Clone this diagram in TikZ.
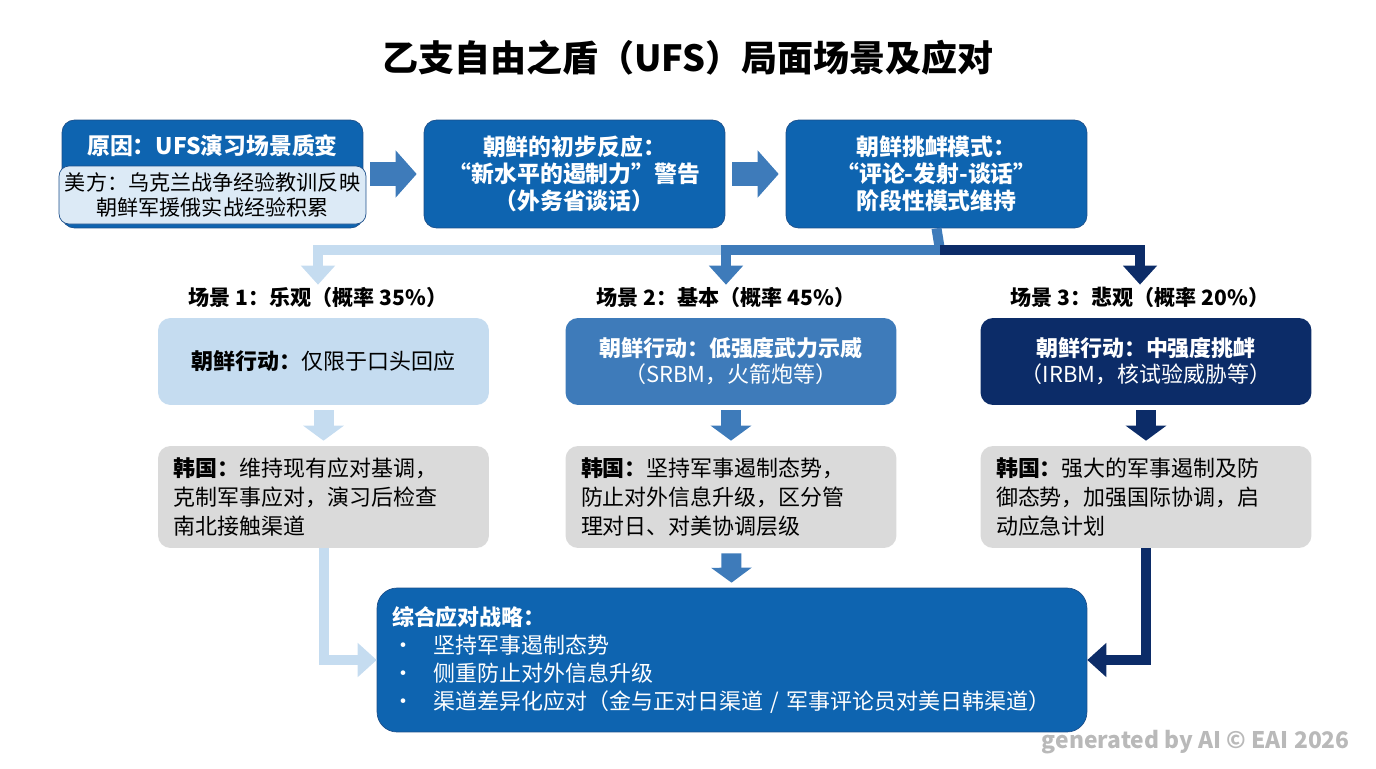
\documentclass[tikz,border=0pt]{standalone}
\usepackage{fontspec}
\setmainfont{Noto Sans CJK SC}
\usetikzlibrary{arrows.meta}
\usetikzlibrary{positioning}
\definecolor{boxblue}{HTML}{0E64B0}
\definecolor{edgeblue}{HTML}{1B4E8A}
\definecolor{lightblue}{HTML}{C5DCF0}
\definecolor{paleblue}{HTML}{DCEAF6}
\definecolor{midblue}{HTML}{3E7BBA}
\definecolor{darkblue}{HTML}{0C2C68}
\definecolor{greybox}{HTML}{DADADA}
\tikzset{
    top box/.style={
        draw=edgeblue,
        fill=boxblue,
        rounded corners=2.5mm,
        minimum width=6.02cm,
        minimum height=2.16cm,
        text=white,
        font=\bfseries\fontsize{13}{15.5}\selectfont,
        align=center,
    },
    act box/.style={
        rounded corners=2.5mm,
        minimum width=6.62cm,
        minimum height=1.74cm,
        align=center,
        font=\fontsize{12.5}{15}\selectfont,
    },
    kor box/.style={
        fill=greybox,
        rounded corners=2.5mm,
        minimum width=6.62cm,
        minimum height=2.04cm,
        text width=6.0cm,
        align=left,
        font=\fontsize{12.5}{16.5}\selectfont,
    },
    scene label/.style={
        font=\bfseries\fontsize{12}{14}\selectfont,
        inner sep=1pt,
    },
    flow line/.style={
        line width=0.2cm,
        -{Triangle[width=0.66cm,length=0.38cm]},
    },
    block arrow/.style={
        line width=0.48cm,
        -{Triangle[width=0.92cm,length=0.42cm]},
        shorten <=0.14cm,
        shorten >=0.14cm,
        color=midblue,
    },
    step arrow/.style={
        line width=0.4cm,
        -{Triangle[width=0.8cm,length=0.3cm]},
        shorten <=0.1cm,
        shorten >=0.1cm,
    },
}
\begin{document}
\begin{tikzpicture}[x=0.02cm,y=-0.02cm]
    \useasboundingbox (0,0) rectangle (1376,768);

    \node[font=\bfseries\fontsize{20.5}{24}\selectfont] (title) at (688,58) {乙支自由之盾（UFS）局面场景及应对};

    % top row
    \node[top box] (cause) at (212.5,174) {};
    \node[font=\bfseries\fontsize{13}{15}\selectfont, text=white] (causetitle) at (212.5,146) {原因：UFS演习场景质变};
    \node[draw=edgeblue, fill=paleblue, rounded corners=2mm, minimum width=5.78cm, minimum height=1.16cm,
          align=center, font=\fontsize{12}{14.5}\selectfont] (causenote) at (212.5,195)
          {美方：乌克兰战争经验教训反映\\朝鲜军援俄实战经验积累};
    \node[top box] (react) at (574.5,174) {朝鲜的初步反应：\\“新水平的遏制力”警告\\（外务省谈话）};
    \node[top box] (pattern) at (936.5,174) {朝鲜挑衅模式：\\“评论-发射-谈话”\\阶段性模式维持};

    \draw[block arrow] (cause) -- (react);
    \draw[block arrow] (react) -- (pattern);

    % scenario labels
    \node[scene label] (lbl1) at (318,297) {场景 1：乐观（概率 35\%）};
    \node[scene label] (lbl2) at (726,297) {场景 2：基本（概率 45\%）};
    \node[scene label] (lbl3) at (1140,297) {场景 3：悲观（概率 20\%）};

    \coordinate (split) at (940,250);
    \draw[flow line, lightblue] (split) -| (lbl1.north);
    \draw[flow line, midblue, -] (pattern.south) -- (split);
    \draw[flow line, midblue] (split) -| (lbl2.north);
    \draw[flow line, darkblue] (split) -| (lbl3.north);

    % actions
    \node[act box, fill=lightblue] (act1) at (323.5,361.5) {\textbf{朝鲜行动：}仅限于口头回应};
    \node[act box, fill=midblue, text=white] (act2) at (731,361.5) {\textbf{朝鲜行动：低强度武力示威}\\（SRBM，火箭炮等）};
    \node[act box, fill=darkblue, text=white] (act3) at (1146,361.5) {\textbf{朝鲜行动：中强度挑衅}\\（IRBM，核试验威胁等）};

    % responses
    \node[kor box] (kor1) at (323.5,497) {\textbf{韩国：}维持现有应对基调，\\克制军事应对，演习后检查\\南北接触渠道};
    \node[kor box] (kor2) at (731,497) {\textbf{韩国：}坚持军事遏制态势，\\防止对外信息升级，区分管\\理对日、对美协调层级};
    \node[kor box] (kor3) at (1146,497) {\textbf{韩国：}强大的军事遏制及防\\御态势，加强国际协调，启\\动应急计划};

    \draw[step arrow, lightblue] (act1) -- (kor1);
    \draw[step arrow, midblue] (act2) -- (kor2);
    \draw[step arrow, darkblue] (act3) -- (kor3);

    % strategy
    \node[draw=edgeblue, fill=boxblue, rounded corners=4mm, minimum width=14.2cm, minimum height=2.88cm,
          text width=13.6cm, align=left, text=white, font=\fontsize{12.5}{16}\selectfont] (strat) at (732,660)
          {\textbf{综合应对战略：}\\
           \textbullet\hspace{0.9em}坚持军事遏制态势\\
           \textbullet\hspace{0.9em}侧重防止对外信息升级\\
           \textbullet\hspace{0.9em}渠道差异化应对（金与正对日渠道 / 军事评论员对美日韩渠道）};

    \draw[step arrow, midblue] (kor2) -- (strat);
    \draw[flow line, lightblue] (kor1.south) |- (strat.west);
    \draw[flow line, darkblue] (kor3.south) |- (strat.east);

    \node[text=gray!55, font=\bfseries\fontsize{13}{15}\selectfont, anchor=east] (mark) at (1356,742) {generated by AI © EAI 2026};
\end{tikzpicture}
\end{document}
